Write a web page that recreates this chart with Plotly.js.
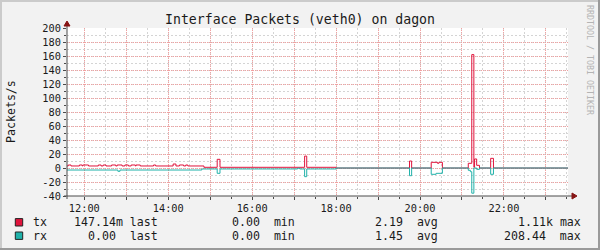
<!DOCTYPE html>
<html><head><meta charset="utf-8">
<script src="https://cdn.plot.ly/plotly-3.0.1.min.js"></script>
<style>html,body{margin:0;padding:0;background:#f2f2f2}#chart{width:600px;height:250px}</style>
</head><body><div id="chart"></div>
<script>
const DAY = '2000-01-01 ';
const seriesNames = ['tx', 'rx'];
const seriesColors = ['#e0143c', '#20b2aa'];

const txTimes = ['11:35','11:37','11:41','11:53','11:57','11:58','12:06','12:20','12:24','12:27','12:31','12:39','12:45','12:47','12:54','12:58','13:03','13:07','13:13','13:14','13:20','13:39','13:42','14:07','14:11','14:16','14:22','14:25','14:28','14:51','15:10','15:14','17:15','17:18','18:00','19:45','19:48','20:16','20:25','20:27','20:32','21:09','21:14','21:17','21:18','21:21','21:25','21:41','21:45','23:32'];
const txValues = [2.9,4.3,2.9,4.3,2.9,4.3,2.9,4.3,2.9,4.3,2.9,4.3,2.9,4.3,2.9,4.3,2.9,4.3,2.9,4.3,2.9,4.3,2.9,5.7,2.9,4.3,2.9,4.3,2.9,1.0,12.4,1.0,17,1.0,0,10,0,8.1,6.7,8.1,0,6.7,162,1,12.9,3.8,0,13.8,0,0];

// rx rates (positive); drawn mirrored below zero
const rxTimes = ['11:35','12:48','12:51','14:48','15:10','15:14','17:05','17:08','17:15','17:18','18:00','19:45','19:48','20:16','20:23','20:32','21:09','21:12','21:14','21:17','21:21','21:25','21:41','21:45','23:32'];
const rxValues = [2.9,4.7,2.9,1.4,7.6,1.4,0.3,1.4,12.4,1.4,0,11,0,9,7.6,0,3.3,5.3,36,0,1.9,0,9,0,0];

const xTickTimes = ['12:00','13:00','14:00','15:00','16:00','17:00','18:00','19:00','20:00','21:00','22:00','23:00'];
const xTickLabels = ['12:00','','14:00','','16:00','','18:00','','20:00','','22:00',''];
const yTickValues = [-40,-20,0,20,40,60,80,100,120,140,160,180,200];
const yTickLabels = ['-40','-20','0','20','40','60','80','100','120','140','160','180','200'];

const statLabels = ['last','min','avg','max'];
const txStats = ['147.14m','0.00','2.19','1.11k'];
const rxStats = ['0.00','0.00','1.45','208.44'];

const titleText = 'Interface Packets (veth0) on dagon';
const yTitle = 'Packets/s';
const watermark = 'RRDTOOL / TOBI OETIKER';

// ---- geometry (pixels) ----
const L = 67, T = 28, W = 501, H = 168, FW = 600, FH = 250;
const px = v => (v - L) / W;
const py = v => (T + H - v) / H;
const MONO = 'DejaVu Sans Mono, monospace';
const NB = '\u00A0';

const traces = [
  {x: txTimes.map(t => DAY + t), y: txValues, name: seriesNames[0], type: 'scatter', mode: 'lines',
   line: {color: seriesColors[0], width: 1, shape: 'hv'}},
  {x: rxTimes.map(t => DAY + t), y: rxValues.map(v => -v), name: seriesNames[1], type: 'scatter', mode: 'lines',
   line: {color: seriesColors[1], width: 1, shape: 'hv'}}
];

const axisCol = '#4a4a4a', arrowCol = '#861414';
const shapes = [
  // frame
  {type:'line', xref:'paper', yref:'paper', x0:px(0), x1:px(FW), y0:py(1), y1:py(1), line:{color:'#cbcbcb', width:2}},
  {type:'line', xref:'paper', yref:'paper', x0:px(1), x1:px(1), y0:py(0), y1:py(FH), line:{color:'#cbcbcb', width:2}},
  {type:'line', xref:'paper', yref:'paper', x0:px(0), x1:px(FW), y0:py(FH-1), y1:py(FH-1), line:{color:'#9a9a9a', width:2}},
  {type:'line', xref:'paper', yref:'paper', x0:px(FW-1), x1:px(FW-1), y0:py(0), y1:py(FH), line:{color:'#9a9a9a', width:2}},
  // axes
  {type:'line', xref:'paper', yref:'paper', x0:px(L), x1:px(L), y0:py(T+H+3), y1:py(T-4), line:{color:axisCol, width:1}},
  {type:'line', xref:'paper', yref:'paper', x0:px(L-3), x1:px(L+W+5), y0:py(T+H), y1:py(T+H), line:{color:axisCol, width:1}},
  {type:'path', xref:'paper', yref:'paper', layer:'above',
   path:`M ${px(L-3)} ${py(T-2)} L ${px(L+3)} ${py(T-2)} L ${px(L)} ${py(T-7)} Z`, fillcolor:arrowCol, line:{color:arrowCol, width:1}},
  {type:'path', xref:'paper', yref:'paper', layer:'above',
   path:`M ${px(L+W+4)} ${py(T+H-3)} L ${px(L+W+4)} ${py(T+H+3)} L ${px(L+W+9)} ${py(T+H)} Z`, fillcolor:arrowCol, line:{color:arrowCol, width:1}}
];

const rowY = [222.3, 235.7];
const colEnds = [160, 297, 440.3, 583.4];
const annotations = [
  {text: yTitle, xref:'paper', yref:'paper', x:px(11), y:py(112), textangle:-90, showarrow:false,
   xanchor:'center', yanchor:'middle', font:{family:MONO, size:11.6, color:'#1a1a1a'}},
  {text: watermark, xref:'paper', yref:'paper', x:px(590), y:py(60), textangle:90, showarrow:false,
   xanchor:'center', yanchor:'middle', font:{family:MONO, size:8.3, color:'#b4b4b4'}}
];
const stats = [txStats, rxStats];
seriesNames.forEach((n, i) => {
  shapes.push({type:'rect', xref:'paper', yref:'paper', x0:px(15.3), x1:px(22.7), y0:py(rowY[i]-3.7), y1:py(rowY[i]+3.7),
    fillcolor:seriesColors[i], line:{color:'#222', width:1}});
  annotations.push({text:n, xref:'paper', yref:'paper', x:px(31), y:py(rowY[i]), showarrow:false,
    xanchor:'left', yanchor:'middle', font:{family:MONO, size:11.6, color:'#1a1a1a'}});
  stats[i].forEach((v, j) => {
    const val = /[0-9]$/.test(v) ? v + NB : v;
    annotations.push({text: val + NB + statLabels[j], xref:'paper', yref:'paper', x:px(colEnds[j]), y:py(rowY[i]),
      showarrow:false, xanchor:'right', yanchor:'middle', font:{family:MONO, size:11.6, color:'#1a1a1a'}});
  });
});

const layout = {
  width: FW, height: FH,
  margin: {l: L, r: FW - L - W, t: T, b: FH - T - H, pad: 0},
  paper_bgcolor: '#f2f2f2', plot_bgcolor: '#ffffff',
  showlegend: false,
  title: {text: titleText, x: 0.5, xref: 'container', xanchor: 'center', y: 1 - 19/FH, yref: 'container', yanchor: 'middle',
          font: {family: MONO, size: 13.2, color: '#1a1a1a'}},
  xaxis: {type: 'date', range: [DAY + '11:35:15', DAY + '23:31:35'],
          tickmode: 'array', tickvals: xTickTimes.map(t => DAY + t), ticktext: xTickLabels,
          showgrid: true, gridcolor: '#f2a0a0', griddash: '1px,1px', gridwidth: 1,
          ticks: 'outside', ticklen: 3, tickcolor: axisCol, showline: false, zeroline: false,
          tickfont: {family: MONO, size: 10.3, color: '#1a1a1a'},
          minor: {dtick: 1800000, tick0: DAY + '11:30', showgrid: true, gridcolor: '#d4d4d4', griddash: '2px,2px', gridwidth: 1,
                  ticks: 'outside', ticklen: 2, tickcolor: axisCol}},
  yaxis: {range: [-40, 200], tickmode: 'array', tickvals: yTickValues, ticktext: yTickLabels,
          showgrid: true, gridcolor: '#f2a0a0', griddash: '1px,1px', gridwidth: 1,
          ticks: 'outside', ticklen: 3, tickcolor: axisCol, showline: false, zeroline: false,
          tickfont: {family: MONO, size: 10.3, color: '#1a1a1a'},
          minor: {dtick: 10, showgrid: true, gridcolor: '#d4d4d4', griddash: '2px,2px', gridwidth: 1,
                  ticks: 'outside', ticklen: 2, tickcolor: axisCol}},
  shapes: shapes,
  annotations: annotations
};

Plotly.newPlot('chart', traces, layout, {staticPlot: true, displayModeBar: false});
</script></body></html>
